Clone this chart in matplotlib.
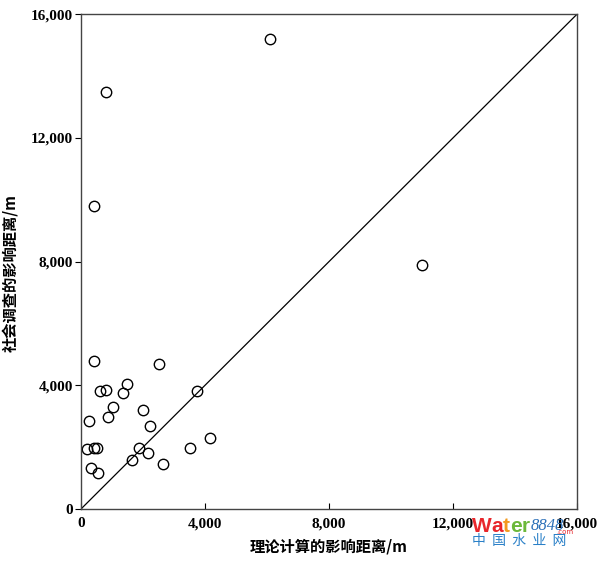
import matplotlib.pyplot as plt
from matplotlib.ticker import FuncFormatter

# 理论计算的影响距离 (x) 与 社会调查的影响距离 (y), 单位 m
x_calc = [6100, 800, 420, 11000, 430, 2520, 1470, 600, 820, 1360, 3750,
          1040, 1990, 860, 270, 2240, 200, 420, 530, 1880, 2150, 3530,
          4160, 1650, 2650, 310, 550]
y_survey = [15200, 13500, 9800, 7900, 4780, 4700, 4050, 3800, 3850, 3760, 3810,
            3290, 3200, 2990, 2850, 2690, 1950, 1960, 1960, 1980, 1810, 1980,
            2300, 1570, 1470, 1310, 1160]

ticks = [0, 4000, 8000, 12000, 16000]
xlabel = '理论计算的影响距离/m'
ylabel = '社会调查的影响距离/m'

serif_bold = {'family': ['Liberation Serif', 'DejaVu Serif'], 'weight': 'bold'}
cjk_bold = {'family': ['Noto Sans CJK SC', 'DejaVu Sans'], 'weight': 'bold'}

fig = plt.figure(figsize=(6, 5.61), dpi=100)
ax = fig.add_axes([0.135, 0.0927, 0.8267, 0.882])

# 1:1 线
ax.plot([0, 16000], [0, 16000], color='black', lw=0.9)
ax.plot(x_calc, y_survey, 'o', mfc='none', mec='black', ms=7.5, mew=1.0)

ax.set_xlim(0, 16000)
ax.set_ylim(0, 16000)
ax.set_xticks(ticks)
ax.set_yticks(ticks)
fmt = FuncFormatter(lambda v, p: f'{int(v):,}')
ax.xaxis.set_major_formatter(fmt)
ax.yaxis.set_major_formatter(fmt)
ax.tick_params(axis='x', direction='in', length=4, pad=6)
ax.tick_params(axis='y', direction='out', length=4, pad=2)
for lab in ax.get_xticklabels() + ax.get_yticklabels():
    lab.set_fontproperties(serif_bold)
    lab.set_fontsize(11)
for s in ax.spines.values():
    s.set_linewidth(1.0)
    s.set_color('#444444')

ax.set_xlabel(xlabel, fontdict=cjk_bold, fontsize=11, labelpad=6)
ax.set_ylabel(ylabel, fontdict=cjk_bold, fontsize=11)
ax.yaxis.set_label_coords(-0.124, 0.476)

# 水印
wm = {'family': ['Liberation Sans', 'DejaVu Sans'], 'weight': 'bold', 'fontsize': 15}
fig.text(472 / 600, 0.052, 'W', color='#e8262b', **wm)
fig.text(491.5 / 600, 0.052, 'a', color='#e8262b', **wm)
fig.text(503 / 600, 0.052, 't', color='#f39a1e', **wm)
fig.text(510 / 600, 0.052, 'e', color='#6cb83a', **wm)
fig.text(521.5 / 600, 0.052, 'r', color='#6cb83a', **wm)
fig.text(531 / 600, 0.055, '8848', color='#2a6fb8', fontsize=12, style='italic',
         family=['Liberation Serif', 'DejaVu Serif'])
fig.text(556 / 600, 0.049, '.com', color='#e8262b', fontsize=5)
fig.text(0.787, 0.028, '中  国  水  业  网', color='#2a80c8', fontsize=10,
         family=['Noto Sans CJK SC', 'DejaVu Sans'])

fig.savefig('out.png', dpi=100)
